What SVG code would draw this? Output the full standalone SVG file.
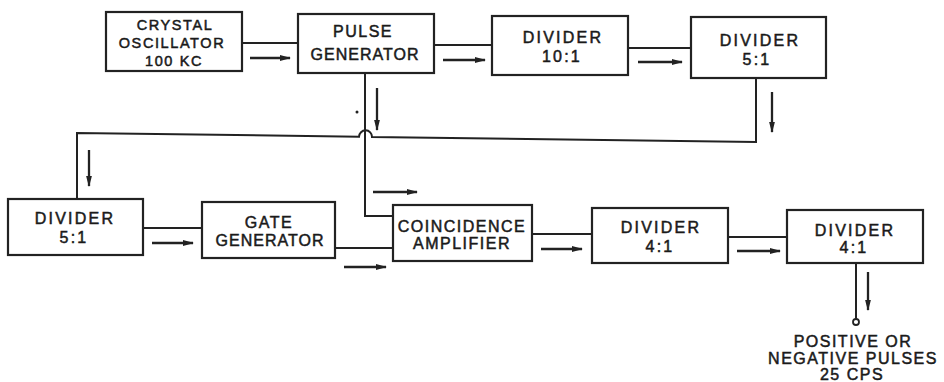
<svg xmlns="http://www.w3.org/2000/svg" width="944" height="382" viewBox="0 0 944 382">
<style>
.box{fill:#fff;stroke:#222;stroke-width:2.2}
.w{fill:none;stroke:#222;stroke-width:2}
.a{fill:none;stroke:#222;stroke-width:2.3;marker-end:url(#ah)}
text{font-family:"Liberation Sans",Arial,sans-serif;fill:#1a1a1a;stroke:#1a1a1a;stroke-width:0.5;text-anchor:middle;font-size:16px;letter-spacing:1.5px}
.s{font-size:14.5px;letter-spacing:1.6px}
.d{letter-spacing:2.2px}
.g{letter-spacing:1px}
</style>
<defs>
<marker id="ah" viewBox="0 0 10 6" refX="9" refY="3" markerWidth="5" markerHeight="3" markerUnits="strokeWidth" orient="auto">
<path d="M0,0.4 L10,3 L0,5.6 Z" fill="#222"/>
</marker>
</defs>
<rect width="944" height="382" fill="#fff"/>
<g id="connectors">
<path class="w" d="M242,43 L298,43"/>
<path class="a" d="M250,58 L290,58"/>
<path class="w" d="M434,45 L492,45"/>
<path class="a" d="M443,60 L485,60"/>
<path class="w" d="M628,48 L691,48"/>
<path class="a" d="M638,62 L682,62"/>
<path class="w" d="M756,78 L756,142 L372,137 A6.5,6.5 0 0 0 359,136.7 L77,133 L77,199"/>
<path class="a" d="M772,92 L772,132"/>
<path class="a" d="M89,150 L89,186"/>
<path class="w" d="M365,73 L365,216 L393,216"/>
<path class="a" d="M377,88 L377,130"/>
<circle cx="357" cy="112" r="1.5" fill="#222"/>
<path class="a" d="M373,192 L417,192"/>
<path class="w" d="M143,228 L202,228"/>
<path class="a" d="M152,243 L193,243"/>
<path class="w" d="M335,248 L393,248"/>
<path class="a" d="M344,267 L386,267"/>
<path class="w" d="M532,234 L592,234"/>
<path class="a" d="M541,249 L582,249"/>
<path class="w" d="M728,237 L787,237"/>
<path class="a" d="M737,251 L780,251"/>
<path class="w" d="M856,263 L856,319"/>
<circle cx="856" cy="322" r="3" fill="#fff" stroke="#222" stroke-width="1.8"/>
<path class="a" d="M868,272 L868,310"/>
</g>
<g id="crystal">
<rect class="box" x="106" y="12" width="136" height="59"/>
<text class="s" x="175" y="30">CRYSTAL</text>
<text class="s" x="172" y="48">OSCILLATOR</text>
<text class="s" x="174" y="66">100 KC</text>
</g>
<g id="pulse">
<rect class="box" x="298" y="14" width="136" height="59"/>
<text x="363" y="37">PULSE</text>
<text class="g" x="365" y="60">GENERATOR</text>
</g>
<g id="div10">
<rect class="box" x="492" y="16" width="136" height="59"/>
<text class="d" x="563" y="43">DIVIDER</text>
<text class="d" x="562" y="62">10:1</text>
</g>
<g id="div5a">
<rect class="box" x="691" y="17" width="135" height="61"/>
<text class="d" x="760" y="46">DIVIDER</text>
<text class="d" x="757" y="65">5:1</text>
</g>
<g id="div5b">
<rect class="box" x="8" y="199" width="135" height="56"/>
<text class="d" x="75" y="224">DIVIDER</text>
<text class="d" x="74" y="243">5:1</text>
</g>
<g id="gate">
<rect class="box" x="202" y="202" width="133" height="56"/>
<text x="269" y="228">GATE</text>
<text class="g" x="270" y="246">GENERATOR</text>
</g>
<g id="coinc">
<rect class="box" x="393" y="205" width="139" height="56"/>
<text x="462" y="232">COINCIDENCE</text>
<text x="462" y="249">AMPLIFIER</text>
</g>
<g id="div4a">
<rect class="box" x="592" y="208" width="136" height="55"/>
<text class="d" x="661" y="233">DIVIDER</text>
<text class="d" x="660" y="252">4:1</text>
</g>
<g id="div4b">
<rect class="box" x="787" y="210" width="136" height="53"/>
<text class="d" x="855" y="236">DIVIDER</text>
<text class="d" x="854" y="253">4:1</text>
</g>
<g id="output">
<text x="853" y="347">POSITIVE OR</text>
<text x="853" y="364">NEGATIVE PULSES</text>
<text x="852" y="380">25 CPS</text>
</g>
</svg>
